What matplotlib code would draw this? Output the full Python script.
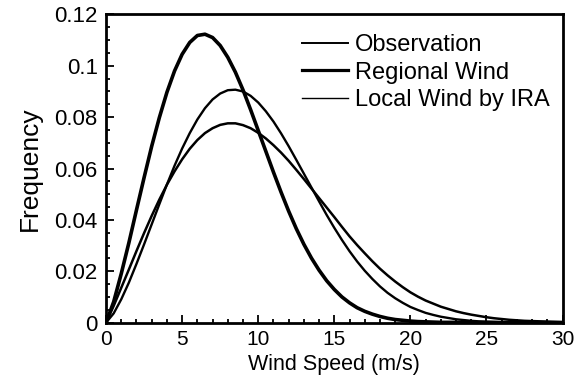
import numpy as np
import matplotlib.pyplot as plt
from matplotlib.ticker import MultipleLocator, FixedFormatter, FixedLocator

plt.rcParams['font.family'] = ['Liberation Sans', 'DejaVu Sans']

# wind speed (m/s), every 0.5 m/s
speed = [i / 2 for i in range(61)]

# frequencies
observation = [0.0, 0.0065, 0.0136, 0.0207, 0.0279, 0.0349, 0.0416, 0.0479, 0.0537, 0.0589,
               0.0636, 0.0677, 0.0711, 0.0738, 0.0757, 0.0770, 0.0776, 0.0776, 0.0769, 0.0757,
               0.0739, 0.0717, 0.0691, 0.0662, 0.0630, 0.0595, 0.0559, 0.0522, 0.0485, 0.0448,
               0.0411, 0.0373, 0.0336, 0.0302, 0.0270, 0.0239, 0.0210, 0.0184, 0.0160, 0.0138,
               0.0118, 0.0101, 0.0086, 0.0074, 0.0062, 0.0053, 0.0044, 0.0037, 0.0031, 0.0026,
               0.0021, 0.0017, 0.0014, 0.0011, 0.0009, 0.0007, 0.0006, 0.0005, 0.0004, 0.0003,
               0.0002]
regional = [0.0, 0.0081, 0.0191, 0.0311, 0.0439, 0.0565, 0.0687, 0.0798, 0.0897, 0.0980,
            0.1045, 0.1091, 0.1118, 0.1123, 0.1110, 0.1079, 0.1033, 0.0975, 0.0906, 0.0829,
            0.0748, 0.0667, 0.0586, 0.0508, 0.0434, 0.0366, 0.0305, 0.0251, 0.0204, 0.0163,
            0.0129, 0.0100, 0.0077, 0.0058, 0.0044, 0.0033, 0.0024, 0.0017, 0.0012, 0.0009,
            0.0006, 0.0004, 0.0003, 0.0002, 0.0001, 0.0001, 0.0001, 0.0, 0.0, 0.0,
            0.0, 0.0, 0.0, 0.0, 0.0, 0.0, 0.0, 0.0, 0.0, 0.0,
            0.0]
local_ira = [0.0, 0.0036, 0.0091, 0.0156, 0.0229, 0.0305, 0.0383, 0.0461, 0.0538, 0.0611,
             0.0678, 0.0738, 0.0791, 0.0835, 0.0869, 0.0892, 0.0905, 0.0907, 0.0900, 0.0883,
             0.0857, 0.0823, 0.0783, 0.0737, 0.0687, 0.0634, 0.0580, 0.0526, 0.0472, 0.0419,
             0.0369, 0.0322, 0.0278, 0.0238, 0.0202, 0.0170, 0.0141, 0.0116, 0.0095, 0.0077,
             0.0061, 0.0049, 0.0038, 0.0030, 0.0023, 0.0018, 0.0013, 0.0010, 0.0007, 0.0005,
             0.0004, 0.0003, 0.0002, 0.0001, 0.0001, 0.0, 0.0, 0.0, 0.0, 0.0,
             0.0]

y_ticks = [0, 0.02, 0.04, 0.06, 0.08, 0.1, 0.12]
y_tick_labels = ['0', '0.02', '0.04', '0.06', '0.08', '0.1', '0.12']

fig = plt.figure(figsize=(5.86, 3.80), dpi=100)
ax = fig.add_axes([0.181, 0.151, 0.779, 0.811])

ax.plot(speed, observation, color='black', lw=1.8, label='Observation')
ax.plot(speed, regional, color='black', lw=2.6, label='Regional Wind')
ax.plot(speed, local_ira, color='black', lw=1.7, label='Local Wind by IRA')

ax.set_xlim(0, 30)
ax.set_ylim(0, 0.12)
ax.xaxis.set_major_locator(MultipleLocator(5))
ax.xaxis.set_minor_locator(MultipleLocator(1))
ax.yaxis.set_major_locator(FixedLocator(y_ticks))
ax.yaxis.set_major_formatter(FixedFormatter(y_tick_labels))
ax.yaxis.set_minor_locator(MultipleLocator(0.005))

ax.tick_params(which='both', direction='in', width=1.3, top=False, right=False)
ax.tick_params(which='major', length=6)
ax.tick_params(which='minor', length=3)
ax.tick_params(axis='x', labelsize=15, pad=5)
ax.tick_params(axis='y', labelsize=16, pad=6)
for s in ax.spines.values():
    s.set_linewidth(2.0)

ax.set_xlabel('Wind Speed (m/s)', fontsize=15.5, labelpad=4)
ax.set_ylabel('Frequency', fontsize=19, labelpad=9)

leg = ax.legend(loc='upper left', frameon=False, fontsize=17, handlelength=1.95,
                handletextpad=0.3, labelspacing=0.22, borderaxespad=0, borderpad=0,
                bbox_to_anchor=(0.429, 0.935))
for h, w in zip(leg.get_lines(), [1.4, 2.3, 1.0]):
    h.set_linewidth(w)

fig.savefig('out.png', dpi=100)
